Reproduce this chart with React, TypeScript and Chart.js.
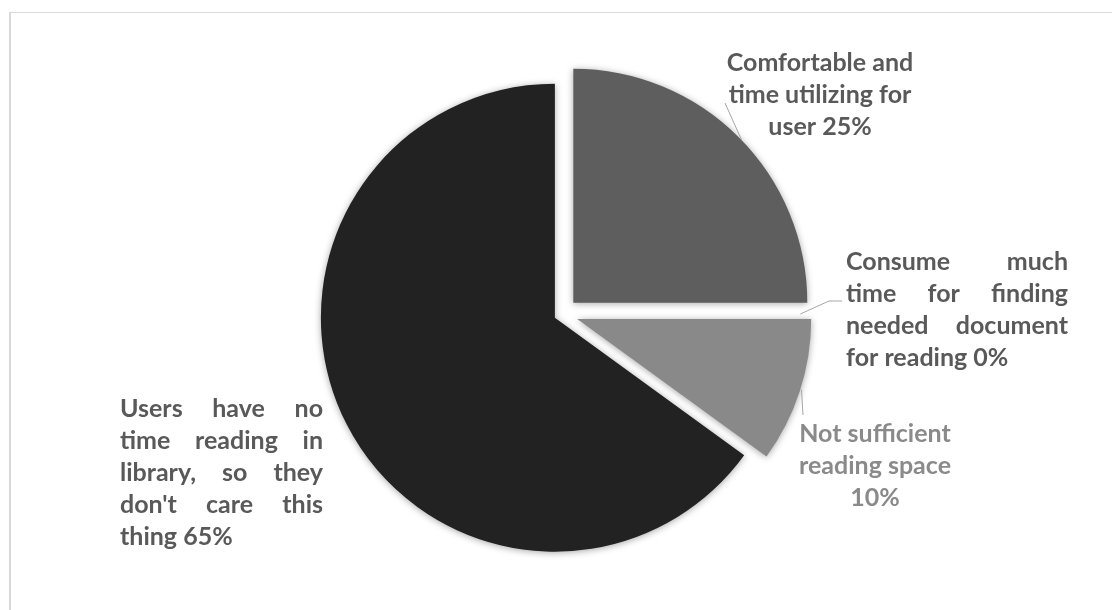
import React, { useEffect, useRef } from "react";
import { Chart, registerables } from "chart.js";

Chart.register(...registerables);

// ---------- data ----------
const categories = [
  "Comfortable and time utilizing for user",
  "Consume much time for finding needed document for reading",
  "Not sufficient reading space",
  "Users have no time reading in library, so they don't care this thing",
];
const values = [25, 0, 10, 65];
const sliceColors = ["#5e5e5e", "#3d3d3d", "#898989", "#222222"];
const explodeBy = [16, 16, 16, 8];

// label text, broken into lines as in the reference
const labelLines = [
  ["Comfortable and", "time utilizing for", "user 25%"],
  ["Consume much", "time for finding", "needed document", "for reading 0%"],
  ["Not sufficient", "reading space", "10%"],
  ["Users have no", "time reading in", "library, so they", "don't care this", "thing 65%"],
];
const labelColors = ["#595959", "#595959", "#8a8a8a", "#595959"];

// label layout (annotation positions, in canvas px)
const labelLayout = [
  { mode: "center", x: 820, baseline: 71 },
  { mode: "justify", x: 846, width: 222, baseline: 270 },
  { mode: "center", x: 875, baseline: 442 },
  { mode: "justify", x: 120, width: 203, baseline: 417 },
];
const LINE_HEIGHT = 32;
const FONT = "bold 25px Lato";

// leader lines: anchor angle on the slice (deg), then label-side points
const leaderLines: { slice: number; angle: number; rad: number; pts: number[][] }[] = [
  { slice: 0, angle: -44, rad: 1, pts: [[725, 103]] },
  { slice: 1, angle: 0, rad: 0.95, pts: [[829, 301], [842, 301]] },
  { slice: 2, angle: 17.5, rad: 1.005, pts: [[803, 415]] },
];

function drawJustified(ctx: CanvasRenderingContext2D, line: string, left: number, width: number, y: number, last: boolean) {
  const words = line.split(" ");
  ctx.textAlign = "left";
  if (last || words.length === 1) {
    ctx.fillText(line, left, y);
    return;
  }
  const ww = words.map((w) => ctx.measureText(w).width);
  const total = ww.reduce((a, b) => a + b, 0);
  const gap = (width - total) / (words.length - 1);
  let x = left;
  words.forEach((w, i) => {
    ctx.fillText(w, x, y);
    x += ww[i] + gap;
  });
}

const explodePlugin = {
  id: "explodeSlices",
  afterDatasetsUpdate(chart: any) {
    const meta = chart.getDatasetMeta(0);
    meta.data.forEach((arc: any, i: number) => {
      const mid = (arc.startAngle + arc.endAngle) / 2;
      arc.x += Math.cos(mid) * explodeBy[i];
      arc.y += Math.sin(mid) * explodeBy[i];
    });
  },
  beforeDatasetsDraw(chart: any) {
    const ctx = chart.ctx;
    ctx.save();
    ctx.shadowColor = "rgba(0,0,0,0.35)";
    ctx.shadowBlur = 7;
    ctx.shadowOffsetX = 0;
    ctx.shadowOffsetY = 1;
  },
  afterDatasetsDraw(chart: any) {
    chart.ctx.restore();
  },
};

const labelPlugin = {
  id: "sliceLabels",
  afterDraw(chart: any) {
    const ctx = chart.ctx as CanvasRenderingContext2D;
    const meta = chart.getDatasetMeta(0);
    ctx.save();
    ctx.strokeStyle = "#a6a6a6";
    ctx.lineWidth = 1;
    leaderLines.forEach((l) => {
      const arc: any = meta.data[l.slice];
      const a = (l.angle * Math.PI) / 180;
      const r = arc.outerRadius * l.rad;
      ctx.beginPath();
      ctx.moveTo(arc.x + Math.cos(a) * r, arc.y + Math.sin(a) * r);
      l.pts.forEach((p) => ctx.lineTo(p[0], p[1]));
      ctx.stroke();
    });
    ctx.font = FONT;
    ctx.textBaseline = "alphabetic";
    labelLines.forEach((lines, i) => {
      const lay: any = labelLayout[i];
      ctx.fillStyle = labelColors[i];
      lines.forEach((line, j) => {
        const y = lay.baseline + j * LINE_HEIGHT;
        if (lay.mode === "center") {
          ctx.textAlign = "center";
          ctx.fillText(line, lay.x, y);
        } else {
          drawJustified(ctx, line, lay.x, lay.width, y, j === lines.length - 1);
        }
      });
    });
    ctx.restore();
  },
};

export default function App() {
  const ref = useRef<HTMLCanvasElement | null>(null);
  useEffect(() => {
    if (!ref.current) return;
    const chart = new Chart(ref.current, {
      type: "pie",
      data: {
        labels: categories,
        datasets: [
          {
            data: values,
            backgroundColor: sliceColors,
            borderWidth: 0,
            hoverOffset: 0,
            offset: 0,
            clip: false as any,
          },
        ],
      },
      options: {
        responsive: false,
        maintainAspectRatio: false,
        animation: false,
        devicePixelRatio: 1,
        events: [],
        layout: { padding: { left: 262, right: 250, top: 80, bottom: 62 } },
        plugins: {
          legend: { display: false },
          tooltip: { enabled: false },
        },
      },
      plugins: [explodePlugin, labelPlugin],
    });
    let alive = true;
    if ((document as any).fonts && (document as any).fonts.load) {
      (document as any).fonts.load(FONT).then(() => {
        if (alive) chart.draw();
      });
    }
    return () => {
      alive = false;
      chart.destroy();
    };
  }, []);
  return (
    <div style={{ position: "fixed", inset: 0, background: "#fff", overflow: "hidden" }}>
      <div
        style={{
          position: "absolute",
          left: 9,
          top: 12,
          right: -20,
          bottom: -20,
          borderTop: "1px solid #d9d9d9",
          borderLeft: "2px solid #d9d9d9",
        }}
      />
      <canvas
        ref={ref}
        width={1112}
        height={610}
        style={{ position: "absolute", left: 0, top: 0, width: 1112, height: 610 }}
      />
    </div>
  );
}
